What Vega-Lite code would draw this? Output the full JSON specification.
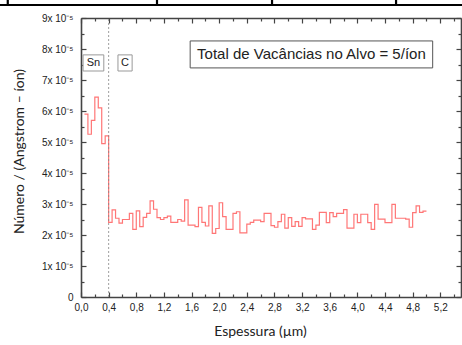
{
  "$schema": "https://vega.github.io/schema/vega-lite/v6.json",
  "autosize": {"type": "none"},
  "width": 380,
  "height": 279,
  "padding": {"left": 81, "top": 18, "right": 1, "bottom": 48},
  "background": "white",
  "config": {
    "view": {"stroke": null},
    "axis": {"grid": false, "domainColor": "#444", "domainWidth": 1.6, "tickColor": "#444", "tickWidth": 1.2, "labelFont": "Liberation Sans", "labelFontSize": 10, "labelColor": "#222", "labelFlush": false, "labelOverlap": false, "titleFont": "Lato", "titleFontSize": 14, "titleFontWeight": "normal", "titleColor": "#222"}
  },
  "datasets": {
    "perfil": [
      {"x": 0.05, "v": 5.90e-5}, {"x": 0.10, "v": 5.25e-5}, {"x": 0.15, "v": 5.70e-5}, {"x": 0.20, "v": 6.45e-5},
      {"x": 0.25, "v": 6.10e-5}, {"x": 0.30, "v": 4.95e-5}, {"x": 0.35, "v": 5.20e-5}, {"x": 0.40, "v": 2.41e-5},
      {"x": 0.45, "v": 2.81e-5}, {"x": 0.50, "v": 2.54e-5}, {"x": 0.55, "v": 2.38e-5}, {"x": 0.60, "v": 2.50e-5},
      {"x": 0.65, "v": 2.50e-5}, {"x": 0.70, "v": 2.70e-5}, {"x": 0.75, "v": 2.18e-5}, {"x": 0.80, "v": 2.78e-5},
      {"x": 0.85, "v": 2.27e-5}, {"x": 0.90, "v": 2.57e-5}, {"x": 0.95, "v": 2.70e-5}, {"x": 1.00, "v": 3.10e-5},
      {"x": 1.05, "v": 2.83e-5}, {"x": 1.10, "v": 2.56e-5}, {"x": 1.15, "v": 2.50e-5}, {"x": 1.20, "v": 2.56e-5},
      {"x": 1.25, "v": 2.61e-5}, {"x": 1.30, "v": 2.41e-5}, {"x": 1.35, "v": 2.41e-5}, {"x": 1.40, "v": 2.50e-5},
      {"x": 1.45, "v": 2.45e-5}, {"x": 1.50, "v": 3.13e-5}, {"x": 1.55, "v": 2.32e-5}, {"x": 1.60, "v": 2.32e-5},
      {"x": 1.65, "v": 2.27e-5}, {"x": 1.70, "v": 2.89e-5}, {"x": 1.75, "v": 2.41e-5}, {"x": 1.80, "v": 2.29e-5},
      {"x": 1.85, "v": 2.94e-5}, {"x": 1.90, "v": 2.05e-5}, {"x": 1.95, "v": 2.21e-5}, {"x": 2.00, "v": 3.04e-5},
      {"x": 2.05, "v": 2.59e-5}, {"x": 2.10, "v": 2.18e-5}, {"x": 2.15, "v": 2.18e-5}, {"x": 2.20, "v": 2.70e-5},
      {"x": 2.25, "v": 2.75e-5}, {"x": 2.30, "v": 2.07e-5}, {"x": 2.35, "v": 2.07e-5}, {"x": 2.40, "v": 2.35e-5},
      {"x": 2.45, "v": 2.41e-5}, {"x": 2.50, "v": 2.48e-5}, {"x": 2.55, "v": 2.48e-5}, {"x": 2.60, "v": 2.43e-5},
      {"x": 2.65, "v": 2.70e-5}, {"x": 2.70, "v": 2.70e-5}, {"x": 2.75, "v": 2.30e-5}, {"x": 2.80, "v": 2.25e-5},
      {"x": 2.85, "v": 2.43e-5}, {"x": 2.90, "v": 2.67e-5}, {"x": 2.95, "v": 2.22e-5}, {"x": 3.00, "v": 2.56e-5},
      {"x": 3.05, "v": 2.28e-5}, {"x": 3.10, "v": 2.43e-5}, {"x": 3.15, "v": 2.28e-5}, {"x": 3.20, "v": 2.56e-5},
      {"x": 3.25, "v": 2.52e-5}, {"x": 3.30, "v": 2.52e-5}, {"x": 3.35, "v": 2.18e-5}, {"x": 3.40, "v": 2.32e-5},
      {"x": 3.45, "v": 2.73e-5}, {"x": 3.50, "v": 2.73e-5}, {"x": 3.55, "v": 2.40e-5}, {"x": 3.60, "v": 2.72e-5},
      {"x": 3.65, "v": 2.59e-5}, {"x": 3.70, "v": 2.70e-5}, {"x": 3.75, "v": 2.70e-5}, {"x": 3.80, "v": 2.82e-5},
      {"x": 3.85, "v": 2.22e-5}, {"x": 3.90, "v": 2.22e-5}, {"x": 3.95, "v": 2.67e-5}, {"x": 4.00, "v": 2.40e-5},
      {"x": 4.05, "v": 2.67e-5}, {"x": 4.10, "v": 2.67e-5}, {"x": 4.15, "v": 2.40e-5}, {"x": 4.20, "v": 2.18e-5},
      {"x": 4.25, "v": 2.99e-5}, {"x": 4.30, "v": 2.51e-5}, {"x": 4.35, "v": 2.51e-5}, {"x": 4.40, "v": 2.40e-5},
      {"x": 4.45, "v": 2.40e-5}, {"x": 4.50, "v": 2.99e-5}, {"x": 4.55, "v": 2.54e-5}, {"x": 4.60, "v": 2.54e-5},
      {"x": 4.65, "v": 2.54e-5}, {"x": 4.70, "v": 2.51e-5}, {"x": 4.75, "v": 2.25e-5}, {"x": 4.80, "v": 2.72e-5},
      {"x": 4.85, "v": 2.94e-5}, {"x": 4.90, "v": 2.73e-5}, {"x": 4.95, "v": 2.77e-5}, {"x": 5.00, "v": 2.77e-5}
    ],
    "caixas": [
      {"rotulo": "Sn", "x1": 0.03, "x2": 0.33, "y1": 7.29e-5, "y2": 7.81e-5, "tipo": "camada"},
      {"rotulo": "C", "x1": 0.535, "x2": 0.74, "y1": 7.29e-5, "y2": 7.81e-5, "tipo": "camada"},
      {"rotulo": "Total de Vacâncias no Alvo = 5/íon", "x1": 1.58, "x2": 5.09, "y1": 7.39e-5, "y2": 8.26e-5, "tipo": "total"}
    ],
    "tabela": [
      {"x1": -1.2, "x2": 5.6, "y1": 9.42e-5, "y2": 9.42e-5},
      {"x1": -1.06, "x2": -1.06, "y1": 9.42e-5, "y2": 9.6e-5},
      {"x1": 1.1, "x2": 1.1, "y1": 9.42e-5, "y2": 9.6e-5},
      {"x1": 2.765, "x2": 2.765, "y1": 9.42e-5, "y2": 9.6e-5},
      {"x1": 4.56, "x2": 4.56, "y1": 9.42e-5, "y2": 9.6e-5}
    ]
  },
  "resolve": {"axis": {"x": "independent", "y": "independent"}},
  "layer": [
    {
      "data": {"name": "perfil"},
      "mark": {"type": "line", "interpolate": "step-after", "stroke": "#ff7676", "strokeWidth": 1.2},
      "encoding": {
        "x": {"field": "x", "type": "quantitative", "scale": {"domain": [0, 5.5], "nice": false, "zero": false},
          "axis": {"orient": "bottom", "values": [0, 0.4, 0.8, 1.2, 1.6, 2.0, 2.4, 2.8, 3.2, 3.6, 4.0, 4.4, 4.8, 5.2], "labelExpr": "replace(format(datum.value, '.1f'), '.', ',')", "tickSize": -5, "labelPadding": 10, "title": "Espessura (µm)", "titlePadding": 12, "titleX": 179}},
        "y": {"field": "v", "type": "quantitative", "scale": {"domain": [0, 9e-5], "nice": false, "zero": true},
          "axis": {"orient": "left", "values": [0, 1e-5, 2e-5, 3e-5, 4e-5, 5e-5, 6e-5, 7e-5, 8e-5, 9e-5], "labelExpr": "datum.value == 0 ? '0' : format(round(datum.value * 1e5), 'd') + 'x 10⁻⁵'", "tickSize": -5, "labelPadding": 13, "title": "Número / (Angstrom – íon)", "titlePadding": 15, "titleY": 133}}
      }
    },
    {
      "data": {"values": [{"x": 0.4}]},
      "mark": {"type": "rule", "stroke": "#888", "strokeWidth": 0.8, "strokeDash": [2, 2]},
      "encoding": {
        "x": {"field": "x", "type": "quantitative",
          "axis": {"orient": "bottom", "values": [0.2, 0.6, 1.0, 1.4, 1.8, 2.2, 2.6, 3.0, 3.4, 3.8, 4.2, 4.6, 5.0, 5.4], "labels": false, "tickSize": -3, "title": null, "domain": false}},
        "y": {"datum": 0, "type": "quantitative",
          "axis": {"orient": "left", "values": [0.5e-5, 1.5e-5, 2.5e-5, 3.5e-5, 4.5e-5, 5.5e-5, 6.5e-5, 7.5e-5, 8.5e-5], "labels": false, "tickSize": -3, "title": null, "domain": false}},
        "y2": {"datum": 9e-5}
      }
    },
    {
      "data": {"name": "caixas"},
      "mark": {"type": "rect", "fill": "white", "strokeWidth": 1},
      "encoding": {
        "x": {"field": "x1", "type": "quantitative",
          "axis": {"orient": "top", "values": [0, 0.4, 0.8, 1.2, 1.6, 2.0, 2.4, 2.8, 3.2, 3.6, 4.0, 4.4, 4.8, 5.2], "labels": false, "tickSize": -5, "title": null}},
        "x2": {"field": "x2"},
        "y": {"field": "y1", "type": "quantitative",
          "axis": {"orient": "right", "values": [0, 1e-5, 2e-5, 3e-5, 4e-5, 5e-5, 6e-5, 7e-5, 8e-5, 9e-5], "labels": false, "tickSize": -5, "title": null}},
        "y2": {"field": "y2"},
        "stroke": {"field": "tipo", "type": "nominal", "scale": {"domain": ["camada", "total"], "range": ["#999", "#555"]}, "legend": null}
      }
    },
    {
      "data": {"name": "caixas"},
      "transform": [{"calculate": "(datum.x1 + datum.x2) / 2", "as": "xc"}, {"calculate": "(datum.y1 + datum.y2) / 2", "as": "yc"}],
      "mark": {"type": "text", "align": "center", "baseline": "middle", "color": "#222"},
      "encoding": {
        "x": {"field": "xc", "type": "quantitative",
          "axis": {"orient": "top", "values": [0.2, 0.6, 1.0, 1.4, 1.8, 2.2, 2.6, 3.0, 3.4, 3.8, 4.2, 4.6, 5.0, 5.4], "labels": false, "tickSize": -3, "title": null, "domain": false}},
        "y": {"field": "yc", "type": "quantitative",
          "axis": {"orient": "right", "values": [0.5e-5, 1.5e-5, 2.5e-5, 3.5e-5, 4.5e-5, 5.5e-5, 6.5e-5, 7.5e-5, 8.5e-5], "labels": false, "tickSize": -3, "title": null, "domain": false}},
        "text": {"field": "rotulo"},
        "font": {"field": "tipo", "type": "nominal", "scale": {"domain": ["camada", "total"], "range": ["Liberation Sans", "Lato"]}, "legend": null},
        "size": {"field": "tipo", "type": "nominal", "scale": {"domain": ["camada", "total"], "range": [11, 15]}, "legend": null}
      }
    },
    {
      "data": {"name": "tabela"},
      "mark": {"type": "rule", "stroke": "black", "strokeWidth": 2.2, "clip": false},
      "encoding": {
        "x": {"field": "x1", "type": "quantitative", "axis": null},
        "x2": {"field": "x2"},
        "y": {"field": "y1", "type": "quantitative", "axis": null},
        "y2": {"field": "y2"}
      }
    }
  ]
}
